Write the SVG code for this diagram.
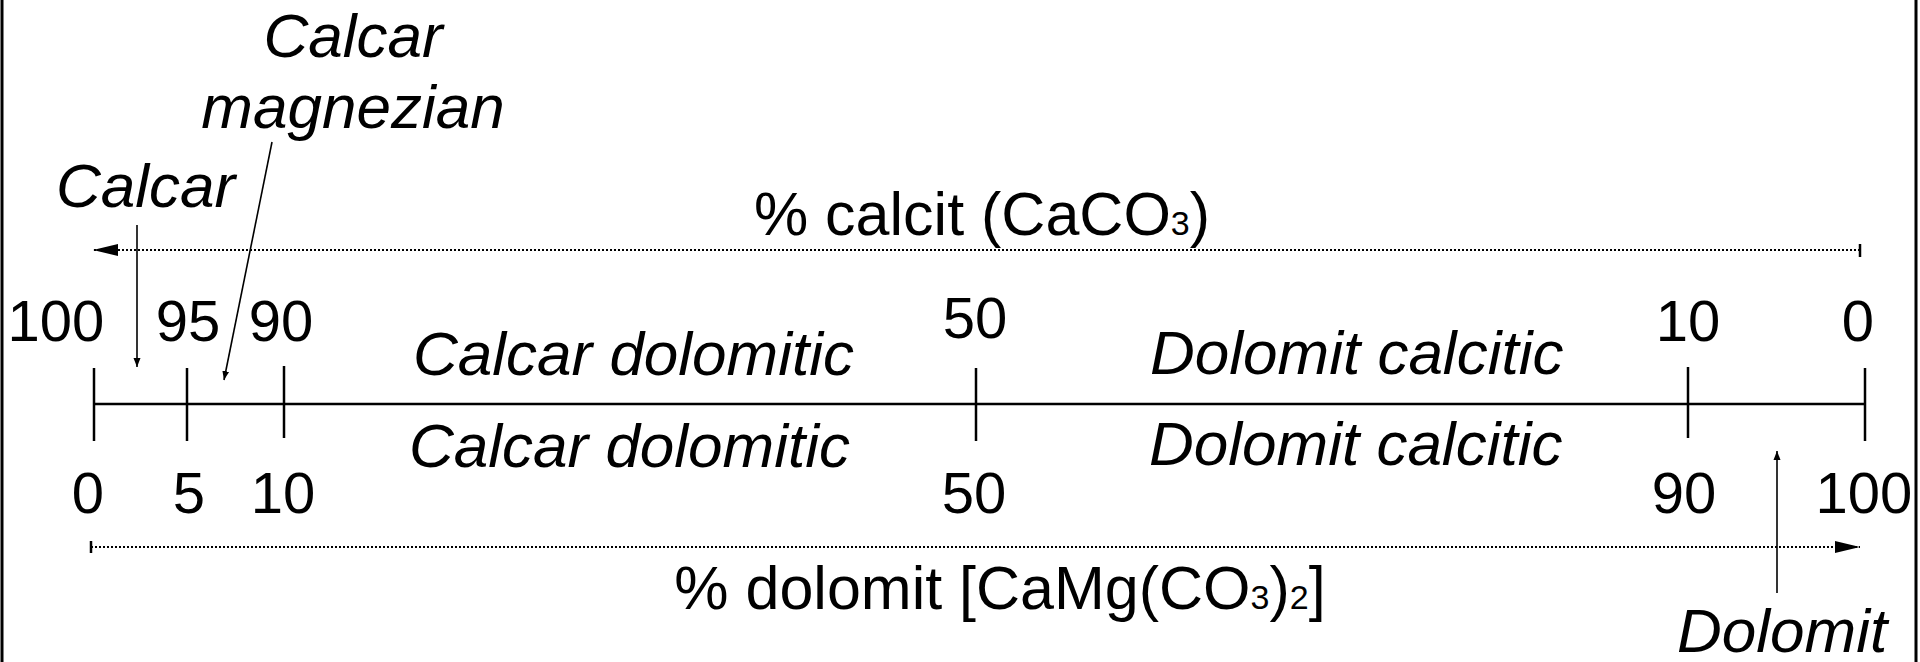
<svg xmlns="http://www.w3.org/2000/svg" width="1920" height="662" viewBox="0 0 1920 662">
<defs>
<marker id="big" markerUnits="userSpaceOnUse" markerWidth="26" markerHeight="14" refX="25" refY="7" orient="auto"><path d="M0,1 L25,7 L0,13 Z" fill="#000"/></marker>
<marker id="small" markerUnits="userSpaceOnUse" markerWidth="10" markerHeight="8" refX="9" refY="4" orient="auto"><path d="M0,0.5 L9,4 L0,7.5 Z" fill="#000"/></marker>
</defs>
<style>
text{font-family:"Liberation Sans",Arial,sans-serif;fill:#000}
.it{font-style:italic;font-size:62px}
.num{font-size:58px;text-anchor:middle}
.reg{font-size:61px;text-anchor:middle}
.sub{font-size:34px}
.axis{stroke:#000;stroke-width:2.5;fill:none}
.dot{stroke:#000;stroke-width:2;stroke-dasharray:2 2;fill:none}
.ptr{stroke:#000;stroke-width:1.6;fill:none}
</style>
<rect width="1920" height="662" fill="#fff"/>
<g id="frame">
<line x1="2" y1="0" x2="2" y2="662" stroke="#000" stroke-width="3"/>
<line x1="1916" y1="0" x2="1916" y2="662" stroke="#000" stroke-width="3"/>
</g>
<g id="axis">
<line class="axis" x1="94" y1="404" x2="1865" y2="404"/>
<line class="axis" x1="94" y1="368" x2="94" y2="441"/>
<line class="axis" x1="187" y1="368" x2="187" y2="441"/>
<line class="axis" x1="284" y1="366" x2="284" y2="438"/>
<line class="axis" x1="976" y1="368" x2="976" y2="441"/>
<line class="axis" x1="1688" y1="367" x2="1688" y2="438"/>
<line class="axis" x1="1865" y1="368" x2="1865" y2="441"/>
</g>
<g id="connectors">
<line class="dot" x1="1860" y1="250" x2="93" y2="250" marker-end="url(#big)"/>
<line x1="1860" y1="244" x2="1860" y2="257" stroke="#000" stroke-width="2.5"/>
<line class="dot" x1="91" y1="547" x2="1860" y2="547" marker-end="url(#big)"/>
<line x1="91" y1="541" x2="91" y2="553" stroke="#000" stroke-width="2.5"/>
<line class="ptr" x1="137" y1="225" x2="137" y2="367" marker-end="url(#small)"/>
<line class="ptr" x1="272" y1="142" x2="224" y2="380" marker-end="url(#small)"/>
<line class="ptr" x1="1777" y1="593" x2="1777" y2="451" marker-end="url(#small)"/>
</g>
<g id="calcit-title"><text class="reg" x="982" y="235">% calcit (CaCO<tspan class="sub">3</tspan>)</text></g>
<g id="dolomit-title"><text class="reg" x="1000" y="609">% dolomit [CaMg(CO<tspan class="sub">3</tspan>)<tspan class="sub">2</tspan>]</text></g>
<g id="label-calcar"><text class="it" x="56" y="207">Calcar</text></g>
<g id="label-magnezian"><text class="it" text-anchor="middle"><tspan x="353" y="57">Calcar</tspan><tspan x="353" y="128">magnezian</tspan></text></g>
<g id="label-dolomit"><text class="it" x="1677" y="652">Dolomit</text></g>
<g id="upper-labels">
<text class="num" x="56" y="341">100</text>
<text class="num" x="188" y="341">95</text>
<text class="num" x="281" y="341">90</text>
<text class="num" x="975" y="338">50</text>
<text class="num" x="1688" y="341">10</text>
<text class="num" x="1858" y="341">0</text>
<text class="it" x="413" y="375">Calcar dolomitic</text>
<text class="it" x="1150" y="374">Dolomit calcitic</text>
</g>
<g id="lower-labels">
<text class="num" x="88" y="513">0</text>
<text class="num" x="189" y="513">5</text>
<text class="num" x="283" y="513">10</text>
<text class="num" x="974" y="513">50</text>
<text class="num" x="1684" y="513">90</text>
<text class="num" x="1864" y="513">100</text>
<text class="it" x="409" y="467">Calcar dolomitic</text>
<text class="it" x="1149" y="465">Dolomit calcitic</text>
</g>
</svg>
